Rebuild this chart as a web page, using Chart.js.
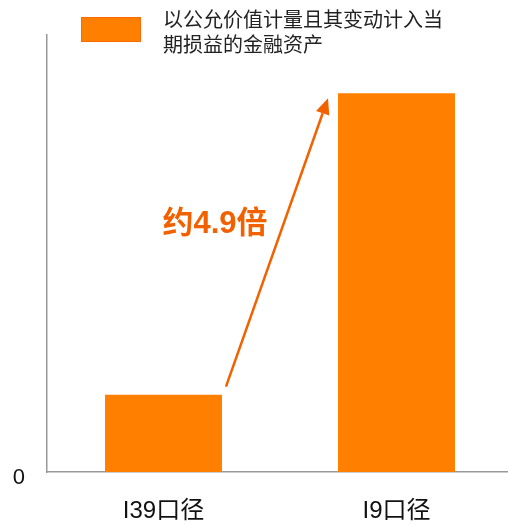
<!DOCTYPE html>
<html>
<head>
<meta charset="utf-8">
<script src="https://cdn.jsdelivr.net/npm/chart.js@4/dist/chart.umd.min.js"></script>
<style>
  html, body { margin: 0; padding: 0; background: #fff; overflow: hidden; }
  #wrap { width: 513px; height: 525px; position: relative; }
</style>
</head>
<body>
<div id="wrap"><canvas id="c"></canvas></div>
<script>
// Data
const categories = ['I39口径', 'I9口径'];
const seriesName = ['以公允价值计量且其变动计入当', '期损益的金融资产'];
const seriesValues = [1.0, 4.9];
const yTicks = [0];
const growthLabel = '约4.9倍';

const FONT = '"Liberation Sans", "Noto Sans CJK SC", sans-serif';
const BAR = '#FF8000';
const ACCENT = '#F26100';
const AXIS = '#999999';

// Legend box with a two-line caption
const legendPlugin = {
  id: 'wrappedLegend',
  afterDraw(chart) {
    const ctx = chart.ctx;
    ctx.save();
    ctx.fillStyle = BAR;
    ctx.fillRect(81, 17, 60, 25);
    ctx.strokeStyle = '#FF6A00';
    ctx.lineWidth = 1;
    ctx.strokeRect(81.5, 17.5, 59, 24);
    ctx.fillStyle = '#222';
    ctx.font = '20px ' + FONT;
    ctx.textBaseline = 'alphabetic';
    seriesName.forEach((line, i) => ctx.fillText(line, 163, 27 + i * 25));
    ctx.restore();
  }
};

// Arrow from the smaller bar to the larger one, with the ratio label
const arrowPlugin = {
  id: 'growthArrow',
  afterDatasetsDraw(chart) {
    const meta = chart.getDatasetMeta(0);
    const a = meta.data[0], b = meta.data[1];
    const x0 = a.x + a.width / 2 + 4, y0 = a.y - 8;
    const x1 = b.x - b.width / 2 - 10, y1 = b.y + 5;
    const ctx = chart.ctx;
    ctx.save();
    ctx.strokeStyle = ACCENT;
    ctx.fillStyle = ACCENT;
    ctx.lineWidth = 2.5;
    const ang = Math.atan2(y1 - y0, x1 - x0);
    const headLen = 16, headW = 7;
    const bx = x1 - headLen * Math.cos(ang), by = y1 - headLen * Math.sin(ang);
    ctx.beginPath();
    ctx.moveTo(x0, y0);
    ctx.lineTo(bx, by);
    ctx.stroke();
    ctx.beginPath();
    ctx.moveTo(x1, y1);
    ctx.lineTo(bx + headW * Math.sin(ang), by - headW * Math.cos(ang));
    ctx.lineTo(bx - headW * Math.sin(ang), by + headW * Math.cos(ang));
    ctx.closePath();
    ctx.fill();
    ctx.font = 'bold 31px ' + FONT;
    ctx.textAlign = 'center';
    ctx.textBaseline = 'middle';
    const ys = chart.scales.y;
    ctx.fillText(growthLabel, (a.x + a.width / 2 + x1) / 2 - 60, ys.getPixelForValue(3.2));
    ctx.restore();
  }
};

new Chart(document.getElementById('c'), {
  type: 'bar',
  data: {
    labels: categories,
    datasets: [{
      label: seriesName.join(''),
      data: seriesValues,
      backgroundColor: BAR,
      borderWidth: 0,
      barPercentage: 0.502,
      categoryPercentage: 1.0
    }]
  },
  options: {
    responsive: true,
    maintainAspectRatio: false,
    animation: false,
    layout: { padding: { top: 29, right: 0, left: 0, bottom: 0 } },
    plugins: { legend: { display: false }, tooltip: { enabled: false } },
    scales: {
      x: {
        grid: { display: false, drawTicks: false },
        border: { display: true, color: AXIS, width: 1.5 },
        ticks: { color: '#111', font: { family: FONT, size: 24 }, padding: 25 },
        afterFit(s) { s.height = 53; }
      },
      y: {
        min: 0,
        max: 5.65,
        grid: { display: false, drawTicks: false },
        border: { display: true, color: AXIS, width: 1.5 },
        afterBuildTicks(s) { s.ticks = yTicks.map(v => ({ value: v })); },
        ticks: { color: '#111', font: { family: FONT, size: 22 }, padding: 22, labelOffset: 6 },
        afterFit(s) { s.width = 47; }
      }
    }
  },
  plugins: [legendPlugin, arrowPlugin]
});
</script>
</body>
</html>
